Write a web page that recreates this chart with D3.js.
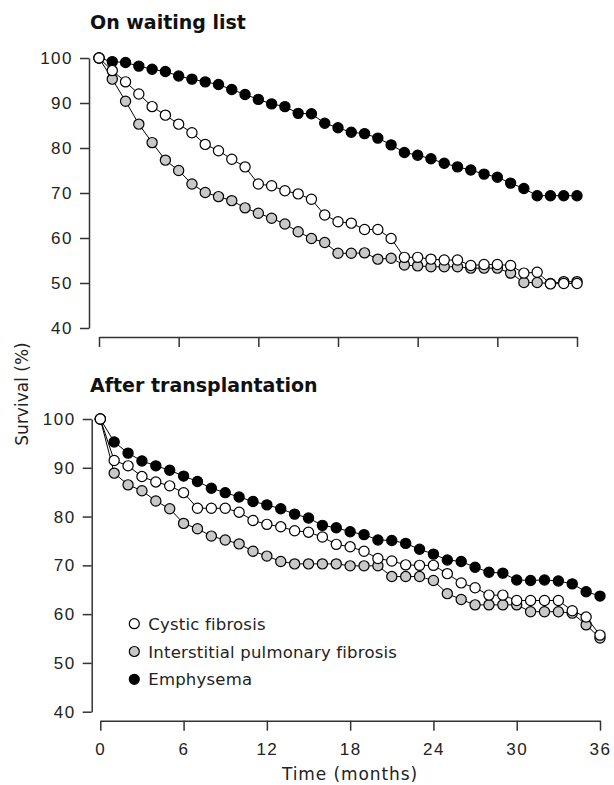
<!DOCTYPE html>
<html>
<head>
<meta charset="utf-8">
<script src="https://cdn.jsdelivr.net/npm/d3@7"></script>
<style>
  body { margin: 0; background: #fff; }
  svg { display: block; font-family: "DejaVu Sans", sans-serif; }
  .axis path, .axis line { stroke: #333; stroke-width: 1.5; }
  .axis text { font-size: 17px; fill: #222; letter-spacing: 1.5px; }
</style>
</head>
<body>
<div id="chart"></div>
<script>
// months on the x axis
var months = [0,1,2,3,4,5,6,7,8,9,10,11,12,13,14,15,16,17,18,19,20,21,22,23,24,25,26,27,28,29,30,31,32,33,34,35,36];
var xTicks = [0, 6, 12, 18, 24, 30, 36];
var yTicks = [40, 50, 60, 70, 80, 90, 100];

// survival (%) on waiting list
var waitCF = [100,97.2,94.7,92.0,89.2,87.3,85.3,83.4,80.8,79.4,77.5,75.8,72.0,71.6,70.5,69.8,68.6,65.1,63.6,63.3,61.9,61.9,59.9,55.7,55.7,55.3,55.1,55.1,53.9,54.1,54.1,53.9,52.2,52.4,49.8,49.9,49.9];
var waitIPF = [100,95.3,90.4,85.3,81.2,77.3,75.0,72.0,70.1,69.2,68.3,66.7,65.5,64.4,63.1,61.4,59.9,59.0,56.6,56.6,56.7,55.3,55.5,54.0,53.8,53.6,53.6,53.6,53.3,53.3,53.3,52.2,50.1,50.1,49.9,50.3,50.3];
var waitEmph = [100,99.2,99.0,98.2,97.5,97.0,96.0,95.3,94.7,94.1,93.0,91.9,90.8,89.8,89.2,87.7,87.6,85.5,84.5,83.5,83.2,82.2,80.7,79.0,78.4,77.6,76.6,75.8,75.1,74.2,73.5,72.2,71.0,69.4,69.4,69.4,69.4];

// survival (%) after transplantation
var postCF = [100,91.5,90.4,88.2,87.1,86.3,84.9,81.7,81.7,81.7,80.9,79.2,78.4,77.9,77.1,76.8,75.8,74.3,73.8,72.9,71.4,70.9,70.1,70.0,70.0,68.3,66.4,65.4,63.9,63.9,62.8,62.8,62.8,62.8,60.7,59.4,55.7];
var postIPF = [100,88.9,86.5,85.3,83.2,81.6,78.6,77.5,76.0,75.2,74.4,72.9,71.9,70.8,70.3,70.3,70.3,70.3,69.9,69.9,69.9,67.7,67.7,67.7,66.9,64.2,63.0,61.9,61.9,61.9,61.9,60.5,60.5,60.5,60.2,57.8,55.1];
var postEmph = [100,95.3,93.0,91.4,90.4,89.5,88.3,87.2,85.8,84.9,84.0,83.1,82.4,81.6,80.5,79.7,78.2,77.7,76.9,76.3,75.2,75.1,74.5,73.3,72.3,71.1,70.8,69.6,68.6,68.4,67.0,66.9,67.0,66.8,66.2,64.6,63.7];

var seriesNames = ["Cystic fibrosis", "Interstitial pulmonary fibrosis", "Emphysema"];
var seriesFills = ["#ffffff", "#c8c8c8", "#000000"];

var width = 614, height = 785;

var svg = d3.select("#chart").append("svg")
    .attr("width", width)
    .attr("height", height);

function panel(title, titleY, xRange, yRange, yAxisX, xAxisY, showXLabels, cf, ipf, emph) {
    var x = d3.scaleLinear().domain([0, 36]).range(xRange);
    var y = d3.scaleLinear().domain([40, 100]).range(yRange);

    svg.append("text")
        .attr("x", 90)
        .attr("y", titleY)
        .style("font-weight", "bold")
        .style("font-size", "19px")
        .style("fill", "#111")
        .text(title);

    svg.append("g")
        .attr("class", "axis")
        .attr("transform", "translate(" + yAxisX + ",0)")
        .call(d3.axisLeft(y).tickValues(yTicks).tickSize(9).tickSizeOuter(0).tickPadding(7));

    var xAxis = d3.axisBottom(x).tickValues(xTicks).tickSize(10).tickSizeOuter(0).tickPadding(12);
    if (!showXLabels) xAxis.tickFormat("");
    svg.append("g")
        .attr("class", "axis")
        .attr("transform", "translate(0," + xAxisY + ")")
        .call(xAxis);

    var line = d3.line()
        .x(function(d, i) { return x(months[i]); })
        .y(function(d) { return y(d); });

    // grey first, then black, white on top
    var order = [[ipf, seriesFills[1]], [emph, seriesFills[2]], [cf, seriesFills[0]]];
    order.forEach(function(s) {
        var g = svg.append("g");
        g.append("path")
            .datum(s[0])
            .attr("d", line)
            .attr("fill", "none")
            .attr("stroke", "#000")
            .attr("stroke-width", 1);
        g.selectAll("circle")
            .data(s[0])
            .enter()
            .append("circle")
            .attr("cx", function(d, i) { return x(months[i]); })
            .attr("cy", function(d) { return y(d); })
            .attr("r", 5.1)
            .attr("fill", s[1])
            .attr("stroke", "#000")
            .attr("stroke-width", 1.2);
    });
}

panel("On waiting list", 29, [99, 577], [328, 58], 89, 337, false, waitCF, waitIPF, waitEmph);
panel("After transplantation", 392, [100.3, 600], [711.7, 419], 91.7, 720.7, true, postCF, postIPF, postEmph);

// y label
svg.append("text")
    .attr("transform", "translate(28,394) rotate(-90)")
    .attr("text-anchor", "middle")
    .style("font-size", "17px")
    .style("fill", "#222")
    .text("Survival (%)");

// x label
svg.append("text")
    .attr("x", 350)
    .attr("y", 780)
    .attr("text-anchor", "middle")
    .style("font-size", "17px")
    .style("letter-spacing", "0.9px")
    .style("fill", "#222")
    .text("Time (months)");

// legend
var legend = svg.append("g")
    .selectAll("g")
    .data(seriesNames)
    .enter()
    .append("g")
    .attr("transform", function(d, i) { return "translate(134.3," + (623.7 + i * 27.8) + ")"; });

legend.append("circle")
    .attr("r", 5)
    .attr("fill", function(d, i) { return seriesFills[i]; })
    .attr("stroke", "#000")
    .attr("stroke-width", 1.2);

legend.append("text")
    .attr("x", 14)
    .attr("y", 6)
    .style("font-size", "16.5px")
    .style("letter-spacing", "0.2px")
    .style("fill", "#222")
    .text(function(d) { return d; });
</script>
</body>
</html>
